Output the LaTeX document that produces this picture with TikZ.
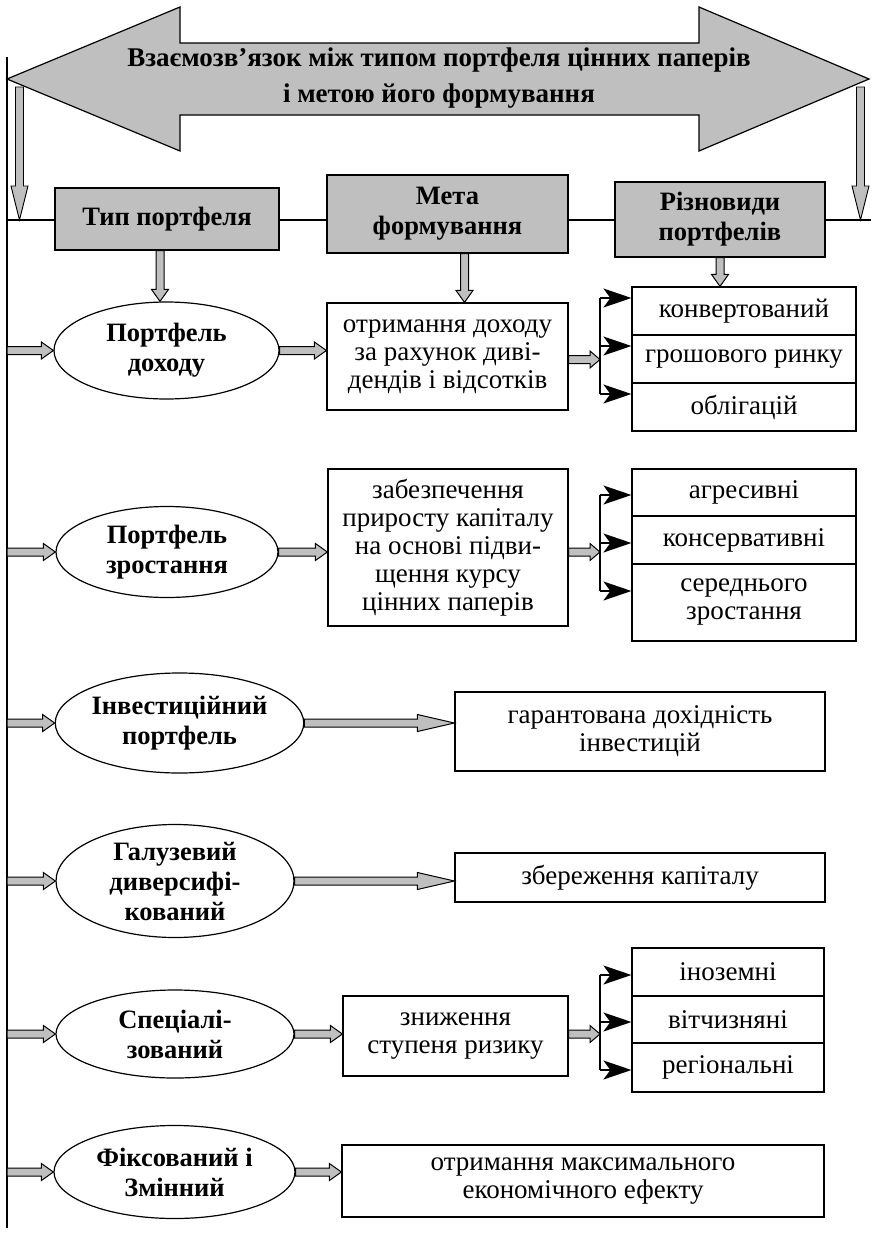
\documentclass[tikz,border=0pt]{standalone}
\usepackage{fontspec}
\setmainfont{Liberation Serif}
\usetikzlibrary{shapes.geometric,arrows.meta,calc}

\begin{document}
\begin{tikzpicture}[x=1pt, y=-1pt, line width=1.2pt,
        harrow/.style={draw, fill=gray!50, line width=1pt,
            to path={let \p1=(\tikztostart), \p2=(\tikztotarget) in
                (\x1,\y1+4pt) -- (\x2-#1,\y1+4pt) -- (\x2-#1,\y1+8.5pt) -- (\x2,\y1)
                -- (\x2-#1,\y1-8.5pt) -- (\x2-#1,\y1-4pt) -- (\x1,\y1-4pt) -- cycle}},
        harrow/.default=12pt,
        varrow/.style={draw, fill=gray!50, line width=1pt,
            to path={let \p1=(\tikztostart), \p2=(\tikztotarget) in
                (\x1-4pt,\y1) -- (\x1-4pt,\y2+#1) -- (\x1-8.5pt,\y2+#1) -- (\x1,\y2)
                -- (\x1+8.5pt,\y2+#1) -- (\x1+4pt,\y2+#1) -- (\x1+4pt,\y1) -- cycle}},
        varrow/.default=12pt,
        sarrow/.style={-{Stealth[length=28pt, width=19pt, inset=7pt]}, line width=1.8pt}]
        \tikzstyle{headbox}=[rectangle, draw=black, fill=gray!50, inner sep=0pt, align=center, font=\fontsize{26.5}{30}\selectfont\bfseries]
        \tikzstyle{typeell}=[ellipse, draw=black, fill=white, inner sep=0pt, align=center, font=\fontsize{26.5}{30}\selectfont\bfseries]
        \tikzstyle{goalbox}=[rectangle, draw=black, fill=white, inner sep=0pt, align=center, font=\fontsize{27}{28}\selectfont]
        \tikzstyle{sortbox}=[rectangle, draw=black, fill=white, inner sep=0pt, align=center, font=\fontsize{27}{28}\selectfont]

        \useasboundingbox (0,0) rectangle (871,1234);

        % title arrow
        \draw[fill=gray!50] (7,79) -- (180,7) -- (180,43) -- (699,43) -- (699,7) -- (869,79)
            -- (699,151) -- (699,115) -- (180,115) -- (180,151) -- cycle;
        \node[align=center, font=\fontsize{27}{36}\selectfont\bfseries] (title) at (439,78)
            {Взаємозв’язок між типом портфеля цінних паперів\\і метою його формування};

        % frame lines
        \coordinate (vtop) at (7,57);
        \coordinate (vbot) at (7,1228);
        \coordinate (hlL) at (7,220);
        \coordinate (hlR) at (871,220);
        \coordinate (dl) at (19.5,87);
        \coordinate (dr) at (860.5,87);
        \draw (vtop) -- (vbot);
        \draw (hlL) -- (hlR);
        \draw[varrow=34pt, line width=0.9pt] (dl) to (dl |- hlL);
        \draw[varrow=34pt, line width=0.9pt] (dr) to (dr |- hlR);

        % header
        \node[headbox, minimum width=224pt, minimum height=62pt] (tp) at (167,219) {Тип портфеля};
        \node[headbox, minimum width=241pt, minimum height=78pt] (mf) at (447.5,214) {Мета\\формування};
        \node[headbox, minimum width=210pt, minimum height=75pt] (rp) at (720,219.5) {Різновиди\\портфелів};

        % portfolio types
        \node[typeell, minimum width=225pt, minimum height=97pt] (e1) at (166.5,350.5) {Портфель\\доходу};
        \node[typeell, minimum width=222pt, minimum height=91pt] (e2) at (167,552) {Портфель\\зростання};
        \node[typeell, minimum width=247pt, minimum height=100pt] (e3) at (179.5,723) {Інвестиційний\\портфель};
        \node[typeell, minimum width=238pt, minimum height=113pt] (e4) at (175,881) {Галузевий\\диверсифі-\\кований};
        \node[typeell, minimum width=238pt, minimum height=88pt] (e5) at (175,1034) {Спеціалі-\\зований};
        \node[typeell, minimum width=241pt, minimum height=93pt] (e6) at (174.5,1172) {Фіксований і\\Змінний};

        % goals
        \node[goalbox, minimum width=241pt, minimum height=107pt] (t1) at (447.5,356.5) {отримання доходу\\за рахунок диві-\\дендів і відсотків};
        \node[goalbox, minimum width=240pt, minimum height=157pt] (t2) at (448,547.5) {забезпечення\\приросту капіталу\\на основі підви-\\щення курсу\\цінних паперів};
        \node[goalbox, minimum width=370pt, minimum height=79pt] (t3) at (640,731.5) {гарантована дохідність\\інвестицій};
        \node[goalbox, minimum width=370pt, minimum height=49pt] (t4) at (640,877.5) {збереження капіталу};
        \node[goalbox, minimum width=225pt, minimum height=80pt] (t5) at (455.5,1036) {зниження\\ступеня ризику};
        \node[goalbox, minimum width=482pt, minimum height=72pt] (t6) at (583,1181) {отримання максимального\\економічного ефекту};

        % kinds
        \node[sortbox, minimum width=224pt, minimum height=48pt] (s11) at (744,311) {конвертований};
        \node[sortbox, minimum width=224pt, minimum height=48pt] (s12) at (744,359) {грошового ринку};
        \node[sortbox, minimum width=224pt, minimum height=48pt] (s13) at (744,407) {облігацій};
        \node[sortbox, minimum width=224pt, minimum height=47pt] (s21) at (744,492.5) {агресивні};
        \node[sortbox, minimum width=224pt, minimum height=48pt] (s22) at (744,540) {консервативні};
        \node[sortbox, minimum width=224pt, minimum height=77pt] (s23) at (744,602.5) {середнього\\зростання};
        \node[sortbox, minimum width=192pt, minimum height=48pt] (s51) at (728,972) {іноземні};
        \node[sortbox, minimum width=192pt, minimum height=47pt] (s52) at (728,1019.5) {вітчизняні};
        \node[sortbox, minimum width=192pt, minimum height=49pt] (s53) at (728,1067.5) {регіональні};

        % header arrows
        \draw[varrow] ([xshift=-7pt]tp.south) to (e1.north);
        \draw[varrow] ([xshift=17pt]mf.south) to (t1.north);
        \draw[varrow] (rp.south) to (s11.north);

        % arrows from the frame line
        \foreach \e in {e1,e2,e3,e4,e5,e6}
            \draw[harrow] (vtop |- \e.west) to (\e.west);

        % arrows to goals
        \draw[harrow] (e1.east) to (t1.west);
        \draw[harrow] (e2.east) to (t2.west);
        \draw[harrow=37pt] (e3.east) to (t3.west);
        \draw[harrow=37pt] (e4.east) to (t4.west);
        \draw[harrow] (e5.east) to (t5.west);
        \draw[harrow] (e6.east) to (t6.west);

        % brackets
        \coordinate (k11) at (600,298);
        \coordinate (k12) at (600,346);
        \coordinate (k13) at (600,394);
        \coordinate (k21) at (600,495);
        \coordinate (k22) at (600,543);
        \coordinate (k23) at (600,591);
        \coordinate (k51) at (600,975);
        \coordinate (k52) at (600,1022);
        \coordinate (k53) at (600,1070);
        \draw[harrow=10pt] ([yshift=-3pt]t1.east) to ([yshift=-3pt]t1.east -| k11);
        \draw[harrow=10pt] (t2.east |- e2.east) to (e2.east -| k21);
        \draw[harrow=10pt] (t5.east |- e5.east) to (e5.east -| k51);
        \draw[line width=1.8pt] (k11) -- (k13);
        \draw[line width=1.8pt] (k21) -- (k23);
        \draw[line width=1.8pt] (k51) -- (k53);
        \draw[sarrow] (k11) -- (k11 -| s11.west);
        \draw[sarrow] (k12) -- (k12 -| s12.west);
        \draw[sarrow] (k13) -- (k13 -| s13.west);
        \draw[sarrow] (k21) -- (k21 -| s21.west);
        \draw[sarrow] (k22) -- (k22 -| s22.west);
        \draw[sarrow] (k23) -- (k23 -| s23.west);
        \draw[sarrow] (k51) -- (k51 -| s51.west);
        \draw[sarrow] (k52) -- (k52 -| s52.west);
        \draw[sarrow] (k53) -- (k53 -| s53.west);
    \end{tikzpicture}
\end{document}
